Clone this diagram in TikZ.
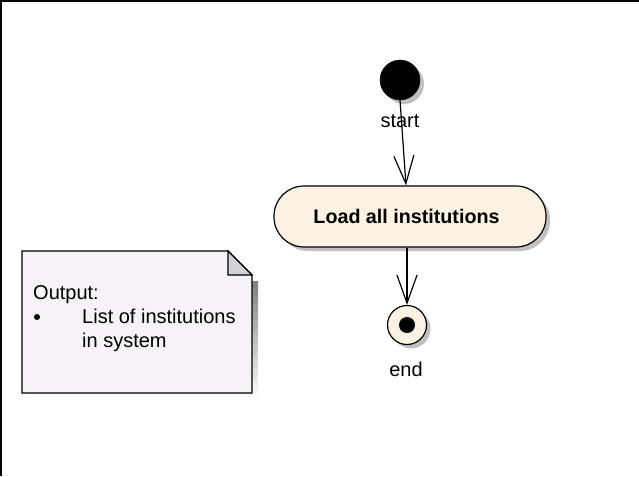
\documentclass[tikz,border=0pt]{standalone}
\usepackage{fontspec}
\setmainfont{Liberation Sans}
\usetikzlibrary{arrows.meta,shadows}
\definecolor{actfill}{RGB}{251,242,228}
\definecolor{notefill}{RGB}{246,242,247}
\definecolor{foldfill}{RGB}{212,208,216}
\definecolor{shade}{RGB}{192,192,192}
\tikzset{
  umlshadow/.style={drop shadow={shadow xshift=4pt,shadow yshift=-4pt,fill=shade,opacity=1}},
  initial/.style={circle,fill=black,draw=black,minimum size=40pt,inner sep=0pt,umlshadow},
  action/.style={rectangle,rounded corners=30pt,draw=black,line width=1.2pt,fill=actfill,
    minimum width=272pt,minimum height=61pt,font=\bfseries\fontsize{19.7}{22}\selectfont,umlshadow},
  final/.style={circle,draw=black,line width=1.2pt,fill=actfill,minimum size=39pt,inner sep=0pt,umlshadow},
  txt/.style={anchor=base,font=\fontsize{20}{24}\selectfont,inner sep=0pt},
  flow/.style={line width=1.2pt,-{Straight Barb[length=28pt,width=20pt,line width=1.2pt]}}
}
\begin{document}
\begin{tikzpicture}[x=1pt,y=-1pt]
  \useasboundingbox (0,0) rectangle (639,476);
  % frame
  \draw[line width=2pt] (1,476) -- (1,1) -- (639,1);

  % note
  \def\nl{22}\def\nr{252}\def\nt{251}\def\nb{393}\def\fold{24}
  \fill[shade] (\nl+6,\nt+\fold+6) -- (\nr+6,\nt+\fold+6) -- (\nr+6,\nb+6) -- (\nl+6,\nb+6) -- cycle;
  \draw[line width=1.2pt,fill=notefill] (\nl,\nt) -- (\nr-\fold,\nt) -- (\nr,\nt+\fold) -- (\nr,\nb) -- (\nl,\nb) -- cycle;
  \draw[line width=1.2pt,fill=foldfill] (\nr-\fold,\nt) -- (\nr-\fold,\nt+\fold) -- (\nr,\nt+\fold) -- cycle;
  \node[txt,anchor=base west] (out) at (33,299) {Output:};
  \fill (37,317) circle (3);
  \node[txt,anchor=base west] (item1) at (82,323) {List of institutions};
  \node[txt,anchor=base west] (item2) at (82,347) {in system};

  % activity
  \node[initial] (start) at (400,80) {};
  \node[txt] (startlbl) at (400,128) {start};
  \node[action] (act) at (410,216.5) {\hspace*{-7pt}Load all institutions};
  \node[final] (final) at (407,325) {};
  \fill (final) circle (8);
  \node[txt] (endlbl) at (406,376) {end};

  \draw[flow] (start.south) -- ([xshift=-4pt]act.north);
  \draw[flow] ([xshift=-3pt]act.south) -- (final.north);
\end{tikzpicture}
\end{document}
